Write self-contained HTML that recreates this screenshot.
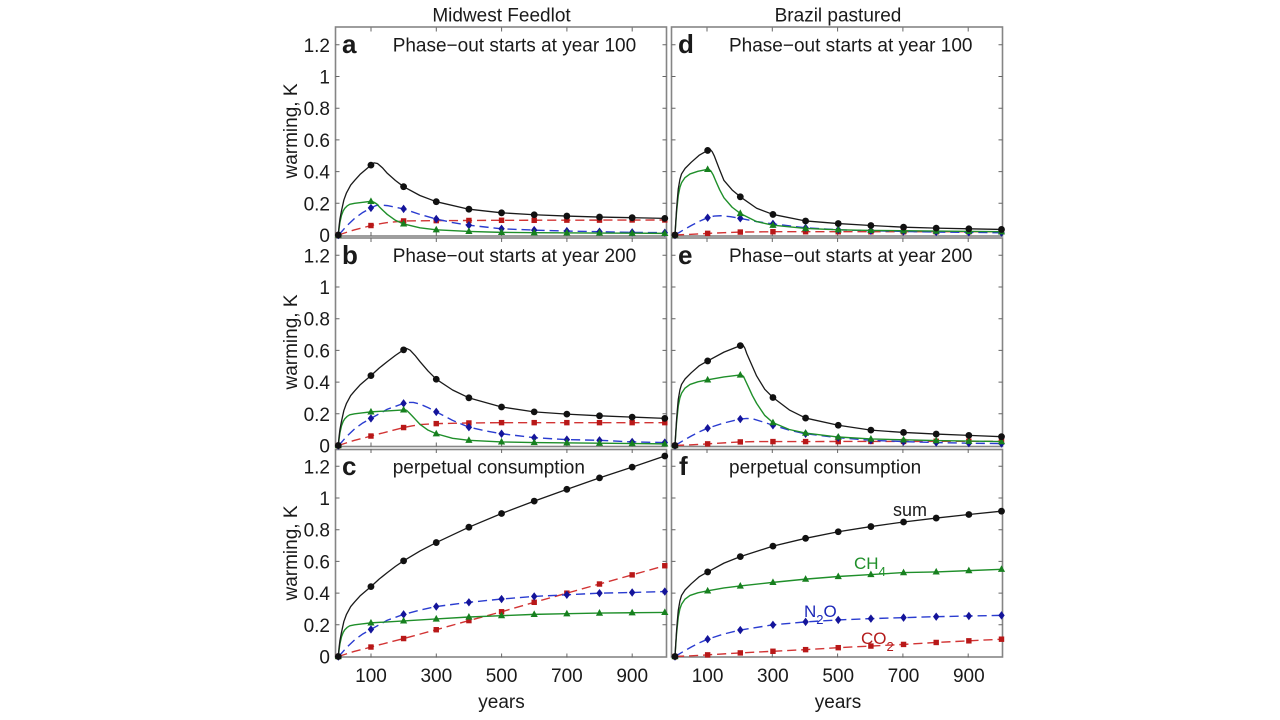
<!DOCTYPE html>
<html>
<head>
<meta charset="utf-8">
<style>
html,body{margin:0;padding:0;background:#fff;}
svg{display:block;}
text{font-family:"Liberation Sans",Arial,sans-serif;fill:#1a1a1a;}
</style>
</head>
<body>
<svg width="1280" height="720" viewBox="0 0 1280 720" xmlns="http://www.w3.org/2000/svg" xmlns:xlink="http://www.w3.org/1999/xlink">
<rect x="0" y="0" width="1280" height="720" fill="#fff"/>
<defs>
<circle id="mc" r="10.4"/>
<path id="mt" d="M0 12.3L11 -8L-11 -8Z"/>
<path id="md" d="M0 12.9L9.8 0L0 -12.9L-9.8 0Z"/>
<rect id="ms" x="-8.3" y="-8.3" width="16.6" height="16.6"/>
<path id="tk" fill="none" stroke="#666" stroke-width="1" d="M0 -31.7h4M0 -63.4h4M0 -95.1h4M0 -126.8h4M0 -158.5h4M0 -190.2h4M331 -31.7h-4M331 -63.4h-4M331 -95.1h-4M331 -126.8h-4M331 -158.5h-4M331 -190.2h-4M35.5 1v-4M100.8 1v-4M166.1 1v-4M231.4 1v-4M296.7 1v-4M35.5 -207.5v4M100.8 -207.5v4M166.1 -207.5v4M231.4 -207.5v4M296.7 -207.5v4"/>
</defs>

<!-- column titles -->
<text x="501.5" y="21.5" font-size="19" text-anchor="middle">Midwest Feedlot</text>
<text x="838" y="21.5" font-size="19" text-anchor="middle">Brazil pastured</text>

<!-- frames -->
<g fill="none" stroke="#858585" stroke-width="1.6">
<rect x="335.5" y="27" width="331" height="209"/>
<rect x="335.5" y="238" width="331" height="208.5"/>
<rect x="335.5" y="449.5" width="331" height="207.5"/>
<rect x="671.5" y="27" width="331" height="209"/>
<rect x="671.5" y="238" width="331" height="208.5"/>
<rect x="671.5" y="449.5" width="331" height="207.5"/>
</g>
<!-- ticks -->
<use href="#tk" xlink:href="#tk" x="335.5" y="235"/>
<use href="#tk" xlink:href="#tk" x="335.5" y="445.5"/>
<use href="#tk" xlink:href="#tk" x="335.5" y="656.5"/>
<use href="#tk" xlink:href="#tk" x="671.5" y="235"/>
<use href="#tk" xlink:href="#tk" x="671.5" y="445.5"/>
<use href="#tk" xlink:href="#tk" x="671.5" y="656.5"/>

<!-- y tick labels -->
<g font-size="19" text-anchor="end">
<text x="330" y="242">0</text>
<text x="330" y="210.3">0.2</text>
<text x="330" y="178.6">0.4</text>
<text x="330" y="146.9">0.6</text>
<text x="330" y="115.2">0.8</text>
<text x="330" y="83.5">1</text>
<text x="330" y="51.8">1.2</text>

<text x="330" y="452.5">0</text>
<text x="330" y="420.8">0.2</text>
<text x="330" y="389.1">0.4</text>
<text x="330" y="357.4">0.6</text>
<text x="330" y="325.7">0.8</text>
<text x="330" y="294">1</text>
<text x="330" y="262.3">1.2</text>

<text x="330" y="663.5">0</text>
<text x="330" y="631.8">0.2</text>
<text x="330" y="600.1">0.4</text>
<text x="330" y="568.4">0.6</text>
<text x="330" y="536.7">0.8</text>
<text x="330" y="505">1</text>
<text x="330" y="473.3">1.2</text>
</g>

<!-- y axis labels -->
<g font-size="19" text-anchor="middle">
<text transform="translate(297,131) rotate(-90)">warming, K</text>
<text transform="translate(297,342) rotate(-90)">warming, K</text>
<text transform="translate(297,553) rotate(-90)">warming, K</text>
</g>

<!-- x tick labels -->
<g font-size="19" text-anchor="middle">
<text x="371" y="682">100</text>
<text x="436.3" y="682">300</text>
<text x="501.6" y="682">500</text>
<text x="566.9" y="682">700</text>
<text x="632.2" y="682">900</text>
<text x="707.6" y="682">100</text>
<text x="772.9" y="682">300</text>
<text x="838.2" y="682">500</text>
<text x="903.5" y="682">700</text>
<text x="968.8" y="682">900</text>
<text x="501.5" y="708">years</text>
<text x="838" y="708">years</text>
</g>

<!-- panel letters -->
<g font-size="26" font-weight="bold">
<text x="342" y="53">a</text>
<text x="342" y="264">b</text>
<text x="342" y="475">c</text>
<text x="678" y="53">d</text>
<text x="678" y="264">e</text>
<text x="679" y="475">f</text>
</g>

<!-- panel headers -->
<g font-size="19">
<text x="392.7" y="51.7">Phase−out starts at year 100</text>
<text x="392.7" y="262">Phase−out starts at year 200</text>
<text x="392.7" y="473.5">perpetual consumption</text>
<text x="729" y="51.7">Phase−out starts at year 100</text>
<text x="729" y="262">Phase−out starts at year 200</text>
<text x="729" y="473.5">perpetual consumption</text>
</g>

<!-- ===== Panel a ===== -->
<g transform="translate(338.3 235) scale(0.3265 -0.3265)" fill="none" stroke-linejoin="round">
<path stroke="#d23434" stroke-width="4.3" stroke-dasharray="28 15" d="M0 0L25 8L50 16L75 22L100 29L125 34L150 38L200 43L300 44L500 45L1000 46"/>
<g fill="#b81818"><use href="#ms" xlink:href="#ms" x="0" y="0"/><use href="#ms" xlink:href="#ms" x="100" y="29"/><use href="#ms" xlink:href="#ms" x="200" y="43"/><use href="#ms" xlink:href="#ms" x="300" y="44"/><use href="#ms" xlink:href="#ms" x="400" y="44.5"/><use href="#ms" xlink:href="#ms" x="500" y="45"/><use href="#ms" xlink:href="#ms" x="600" y="45"/><use href="#ms" xlink:href="#ms" x="700" y="45.5"/><use href="#ms" xlink:href="#ms" x="800" y="45.5"/><use href="#ms" xlink:href="#ms" x="900" y="46"/><use href="#ms" xlink:href="#ms" x="1000" y="46"/></g>
<path stroke="#2a3cd0" stroke-width="4.3" stroke-dasharray="28 15" d="M0 0L10 10L25 27L50 51L75 69L100 83L115 90L130 92L150 90L200 80L250 63L300 49L350 38L400 30L500 19L600 15L700 12L800 10L900 8L1000 7"/>
<g fill="#14149a"><use href="#md" xlink:href="#md" x="0" y="0"/><use href="#md" xlink:href="#md" x="100" y="83"/><use href="#md" xlink:href="#md" x="200" y="80"/><use href="#md" xlink:href="#md" x="300" y="49"/><use href="#md" xlink:href="#md" x="400" y="30"/><use href="#md" xlink:href="#md" x="500" y="19"/><use href="#md" xlink:href="#md" x="600" y="15"/><use href="#md" xlink:href="#md" x="700" y="12"/><use href="#md" xlink:href="#md" x="800" y="10"/><use href="#md" xlink:href="#md" x="900" y="8"/><use href="#md" xlink:href="#md" x="1000" y="7"/></g>
<path stroke="#1f8f2a" stroke-width="4.3" d="M0 0L2 17L5 39L10 61L15 74L20 82L27 89L35 94L50 97L75 100L100 103L105 102L110 100L118 95L125 87L137 75L150 63L175 45L200 34L250 22L300 16L400 11L500 8L600 7L800 6L1000 5"/>
<g fill="#17801f"><use href="#mt" xlink:href="#mt" x="0" y="0"/><use href="#mt" xlink:href="#mt" x="100" y="103"/><use href="#mt" xlink:href="#mt" x="200" y="34"/><use href="#mt" xlink:href="#mt" x="300" y="16"/><use href="#mt" xlink:href="#mt" x="400" y="11"/><use href="#mt" xlink:href="#mt" x="500" y="8"/><use href="#mt" xlink:href="#mt" x="600" y="7"/><use href="#mt" xlink:href="#mt" x="700" y="6.5"/><use href="#mt" xlink:href="#mt" x="800" y="6"/><use href="#mt" xlink:href="#mt" x="900" y="5.5"/><use href="#mt" xlink:href="#mt" x="1000" y="5"/></g>
<path stroke="#1a1a1a" stroke-width="4" d="M0 0L2 24L5 49L10 75L17 107L25 129L38 153L50 167L68 187L100 214L105 219L110 221L120 219L135 206L150 189L175 167L200 148L250 121L300 102L400 79L500 68L600 62L700 58L800 55L900 53L1000 51"/>
<g fill="#111"><use href="#mc" xlink:href="#mc" x="0" y="0"/><use href="#mc" xlink:href="#mc" x="100" y="214"/><use href="#mc" xlink:href="#mc" x="200" y="148"/><use href="#mc" xlink:href="#mc" x="300" y="102"/><use href="#mc" xlink:href="#mc" x="400" y="79"/><use href="#mc" xlink:href="#mc" x="500" y="68"/><use href="#mc" xlink:href="#mc" x="600" y="62"/><use href="#mc" xlink:href="#mc" x="700" y="58"/><use href="#mc" xlink:href="#mc" x="800" y="55"/><use href="#mc" xlink:href="#mc" x="900" y="53"/><use href="#mc" xlink:href="#mc" x="1000" y="51"/></g>
</g>

<!-- ===== Panel b ===== -->
<g transform="translate(338.3 445.5) scale(0.3265 -0.3265)" fill="none" stroke-linejoin="round">
<path stroke="#d23434" stroke-width="4.3" stroke-dasharray="28 15" d="M0 0L25 8L50 16L75 22L100 29L150 42L200 55L225 60L250 64L300 67L400 69L500 70L1000 70"/>
<g fill="#b81818"><use href="#ms" xlink:href="#ms" x="0" y="0"/><use href="#ms" xlink:href="#ms" x="100" y="29"/><use href="#ms" xlink:href="#ms" x="200" y="55"/><use href="#ms" xlink:href="#ms" x="300" y="67"/><use href="#ms" xlink:href="#ms" x="400" y="69"/><use href="#ms" xlink:href="#ms" x="500" y="70"/><use href="#ms" xlink:href="#ms" x="600" y="70"/><use href="#ms" xlink:href="#ms" x="700" y="70"/><use href="#ms" xlink:href="#ms" x="800" y="70"/><use href="#ms" xlink:href="#ms" x="900" y="70"/><use href="#ms" xlink:href="#ms" x="1000" y="70"/></g>
<path stroke="#2a3cd0" stroke-width="4.3" stroke-dasharray="28 15" d="M0 0L10 10L25 27L50 51L75 69L100 83L150 111L200 129L215 132L230 132L250 127L275 116L300 103L350 77L400 56L450 45L500 36L600 24L700 18L800 16L900 11L1000 9"/>
<g fill="#14149a"><use href="#md" xlink:href="#md" x="0" y="0"/><use href="#md" xlink:href="#md" x="100" y="83"/><use href="#md" xlink:href="#md" x="200" y="129"/><use href="#md" xlink:href="#md" x="300" y="103"/><use href="#md" xlink:href="#md" x="400" y="56"/><use href="#md" xlink:href="#md" x="500" y="36"/><use href="#md" xlink:href="#md" x="600" y="24"/><use href="#md" xlink:href="#md" x="700" y="18"/><use href="#md" xlink:href="#md" x="800" y="16"/><use href="#md" xlink:href="#md" x="900" y="11"/><use href="#md" xlink:href="#md" x="1000" y="9"/></g>
<path stroke="#1f8f2a" stroke-width="4.3" d="M0 0L2 17L5 39L10 61L15 74L20 82L27 89L35 94L50 97L75 100L100 103L150 106L200 109L205 109L210 107L218 99L225 92L237 79L250 65L275 47L300 36L350 22L400 16L500 11L600 9L800 7L1000 5"/>
<g fill="#17801f"><use href="#mt" xlink:href="#mt" x="0" y="0"/><use href="#mt" xlink:href="#mt" x="100" y="103"/><use href="#mt" xlink:href="#mt" x="200" y="109"/><use href="#mt" xlink:href="#mt" x="300" y="36"/><use href="#mt" xlink:href="#mt" x="400" y="16"/><use href="#mt" xlink:href="#mt" x="500" y="11"/><use href="#mt" xlink:href="#mt" x="600" y="9"/><use href="#mt" xlink:href="#mt" x="700" y="8"/><use href="#mt" xlink:href="#mt" x="800" y="7"/><use href="#mt" xlink:href="#mt" x="900" y="6"/><use href="#mt" xlink:href="#mt" x="1000" y="5"/></g>
<path stroke="#1a1a1a" stroke-width="4" d="M0 0L2 24L5 49L10 75L17 107L25 129L38 153L50 167L68 187L100 214L125 237L150 257L175 276L200 293L205 296L210 297L220 292L235 276L250 257L275 228L300 203L350 170L400 146L500 118L600 103L700 96L800 91L900 87L1000 83"/>
<g fill="#111"><use href="#mc" xlink:href="#mc" x="0" y="0"/><use href="#mc" xlink:href="#mc" x="100" y="214"/><use href="#mc" xlink:href="#mc" x="200" y="293"/><use href="#mc" xlink:href="#mc" x="300" y="203"/><use href="#mc" xlink:href="#mc" x="400" y="146"/><use href="#mc" xlink:href="#mc" x="500" y="118"/><use href="#mc" xlink:href="#mc" x="600" y="103"/><use href="#mc" xlink:href="#mc" x="700" y="96"/><use href="#mc" xlink:href="#mc" x="800" y="91"/><use href="#mc" xlink:href="#mc" x="900" y="87"/><use href="#mc" xlink:href="#mc" x="1000" y="83"/></g>
</g>

<!-- ===== Panel c ===== -->
<g transform="translate(338.3 656.5) scale(0.3265 -0.3265)" fill="none" stroke-linejoin="round">
<path stroke="#d23434" stroke-width="4.3" stroke-dasharray="28 15" d="M0 0L25 8L50 16L75 22L100 29L200 55L300 82L400 110L500 137L600 166L700 194L800 222L900 250L1000 278"/>
<g fill="#b81818"><use href="#ms" xlink:href="#ms" x="0" y="0"/><use href="#ms" xlink:href="#ms" x="100" y="29"/><use href="#ms" xlink:href="#ms" x="200" y="55"/><use href="#ms" xlink:href="#ms" x="300" y="82"/><use href="#ms" xlink:href="#ms" x="400" y="110"/><use href="#ms" xlink:href="#ms" x="500" y="137"/><use href="#ms" xlink:href="#ms" x="600" y="166"/><use href="#ms" xlink:href="#ms" x="700" y="194"/><use href="#ms" xlink:href="#ms" x="800" y="222"/><use href="#ms" xlink:href="#ms" x="900" y="250"/><use href="#ms" xlink:href="#ms" x="1000" y="278"/></g>
<path stroke="#2a3cd0" stroke-width="4.3" stroke-dasharray="28 15" d="M0 0L10 10L25 27L50 51L75 69L100 83L150 111L200 129L250 142L300 153L400 166L500 176L600 184L700 189L800 194L900 196L1000 199"/>
<g fill="#14149a"><use href="#md" xlink:href="#md" x="0" y="0"/><use href="#md" xlink:href="#md" x="100" y="83"/><use href="#md" xlink:href="#md" x="200" y="129"/><use href="#md" xlink:href="#md" x="300" y="153"/><use href="#md" xlink:href="#md" x="400" y="166"/><use href="#md" xlink:href="#md" x="500" y="176"/><use href="#md" xlink:href="#md" x="600" y="184"/><use href="#md" xlink:href="#md" x="700" y="189"/><use href="#md" xlink:href="#md" x="800" y="194"/><use href="#md" xlink:href="#md" x="900" y="196"/><use href="#md" xlink:href="#md" x="1000" y="199"/></g>
<path stroke="#1f8f2a" stroke-width="4.3" d="M0 0L2 17L5 39L10 61L15 74L20 82L27 89L35 94L50 97L75 100L100 103L150 106L200 109L300 115L400 121L500 125L600 129L700 131L800 133L900 134L1000 135"/>
<g fill="#17801f"><use href="#mt" xlink:href="#mt" x="0" y="0"/><use href="#mt" xlink:href="#mt" x="100" y="103"/><use href="#mt" xlink:href="#mt" x="200" y="109"/><use href="#mt" xlink:href="#mt" x="300" y="115"/><use href="#mt" xlink:href="#mt" x="400" y="121"/><use href="#mt" xlink:href="#mt" x="500" y="125"/><use href="#mt" xlink:href="#mt" x="600" y="129"/><use href="#mt" xlink:href="#mt" x="700" y="131"/><use href="#mt" xlink:href="#mt" x="800" y="133"/><use href="#mt" xlink:href="#mt" x="900" y="134"/><use href="#mt" xlink:href="#mt" x="1000" y="135"/></g>
<path stroke="#1a1a1a" stroke-width="4" d="M0 0L2 24L5 49L10 75L17 107L25 129L38 153L50 167L68 187L100 214L125 237L150 257L175 276L200 293L250 323L300 349L400 396L500 438L600 476L700 512L800 547L900 580L1000 614"/>
<g fill="#111"><use href="#mc" xlink:href="#mc" x="0" y="0"/><use href="#mc" xlink:href="#mc" x="100" y="214"/><use href="#mc" xlink:href="#mc" x="200" y="293"/><use href="#mc" xlink:href="#mc" x="300" y="349"/><use href="#mc" xlink:href="#mc" x="400" y="396"/><use href="#mc" xlink:href="#mc" x="500" y="438"/><use href="#mc" xlink:href="#mc" x="600" y="476"/><use href="#mc" xlink:href="#mc" x="700" y="512"/><use href="#mc" xlink:href="#mc" x="800" y="547"/><use href="#mc" xlink:href="#mc" x="900" y="580"/><use href="#mc" xlink:href="#mc" x="1000" y="614"/></g>
</g>

<!-- ===== Panel d ===== -->
<g transform="translate(675 235) scale(0.3265 -0.3265)" fill="none" stroke-linejoin="round">
<path stroke="#d23434" stroke-width="4.3" stroke-dasharray="28 15" d="M0 0L50 2L100 5L150 7L200 9L300 10L1000 10"/>
<g fill="#b81818"><use href="#ms" xlink:href="#ms" x="0" y="0"/><use href="#ms" xlink:href="#ms" x="100" y="5"/><use href="#ms" xlink:href="#ms" x="200" y="9"/><use href="#ms" xlink:href="#ms" x="300" y="10"/><use href="#ms" xlink:href="#ms" x="400" y="10"/><use href="#ms" xlink:href="#ms" x="500" y="10"/><use href="#ms" xlink:href="#ms" x="600" y="10"/><use href="#ms" xlink:href="#ms" x="700" y="10"/><use href="#ms" xlink:href="#ms" x="800" y="10"/><use href="#ms" xlink:href="#ms" x="900" y="10"/><use href="#ms" xlink:href="#ms" x="1000" y="10"/></g>
<path stroke="#2a3cd0" stroke-width="4.3" stroke-dasharray="28 15" d="M0 0L25 15L50 29L75 42L100 53L120 58L140 59L170 56L200 51L250 41L300 34L400 22L500 16L600 13L700 11L800 9L900 8L1000 7"/>
<g fill="#14149a"><use href="#md" xlink:href="#md" x="0" y="0"/><use href="#md" xlink:href="#md" x="100" y="53"/><use href="#md" xlink:href="#md" x="200" y="51"/><use href="#md" xlink:href="#md" x="300" y="34"/><use href="#md" xlink:href="#md" x="400" y="22"/><use href="#md" xlink:href="#md" x="500" y="16"/><use href="#md" xlink:href="#md" x="600" y="13"/><use href="#md" xlink:href="#md" x="700" y="11"/><use href="#md" xlink:href="#md" x="800" y="9"/><use href="#md" xlink:href="#md" x="900" y="8"/><use href="#md" xlink:href="#md" x="1000" y="7"/></g>
<path stroke="#1f8f2a" stroke-width="4.3" d="M0 0L2 32L5 73L7 92L10 121L15 146L20 160L30 175L46 187L70 195L100 201L105 200L110 196L117 184L125 165L137 138L150 114L175 85L200 66L250 41L300 30L400 20L500 16L600 14L800 12L1000 10"/>
<g fill="#17801f"><use href="#mt" xlink:href="#mt" x="0" y="0"/><use href="#mt" xlink:href="#mt" x="100" y="201"/><use href="#mt" xlink:href="#mt" x="200" y="66"/><use href="#mt" xlink:href="#mt" x="300" y="30"/><use href="#mt" xlink:href="#mt" x="400" y="20"/><use href="#mt" xlink:href="#mt" x="500" y="16"/><use href="#mt" xlink:href="#mt" x="600" y="14"/><use href="#mt" xlink:href="#mt" x="700" y="13"/><use href="#mt" xlink:href="#mt" x="800" y="12"/><use href="#mt" xlink:href="#mt" x="900" y="11"/><use href="#mt" xlink:href="#mt" x="1000" y="10"/></g>
<path stroke="#1a1a1a" stroke-width="4" d="M0 0L2 34L5 82L7 107L10 141L15 170L20 187L31 204L50 223L75 245L100 259L104 262L108 262L114 255L120 243L135 204L150 167L175 138L200 117L250 82L300 63L400 43L500 35L600 29L700 24L800 21L900 19L1000 17"/>
<g fill="#111"><use href="#mc" xlink:href="#mc" x="0" y="0"/><use href="#mc" xlink:href="#mc" x="100" y="259"/><use href="#mc" xlink:href="#mc" x="200" y="117"/><use href="#mc" xlink:href="#mc" x="300" y="63"/><use href="#mc" xlink:href="#mc" x="400" y="43"/><use href="#mc" xlink:href="#mc" x="500" y="35"/><use href="#mc" xlink:href="#mc" x="600" y="29"/><use href="#mc" xlink:href="#mc" x="700" y="24"/><use href="#mc" xlink:href="#mc" x="800" y="21"/><use href="#mc" xlink:href="#mc" x="900" y="19"/><use href="#mc" xlink:href="#mc" x="1000" y="17"/></g>
</g>

<!-- ===== Panel e ===== -->
<g transform="translate(675 445.5) scale(0.3265 -0.3265)" fill="none" stroke-linejoin="round">
<path stroke="#d23434" stroke-width="4.3" stroke-dasharray="28 15" d="M0 0L50 2L100 5L200 11L250 12L300 12L1000 13"/>
<g fill="#b81818"><use href="#ms" xlink:href="#ms" x="0" y="0"/><use href="#ms" xlink:href="#ms" x="100" y="5"/><use href="#ms" xlink:href="#ms" x="200" y="11"/><use href="#ms" xlink:href="#ms" x="300" y="12"/><use href="#ms" xlink:href="#ms" x="400" y="12"/><use href="#ms" xlink:href="#ms" x="500" y="12"/><use href="#ms" xlink:href="#ms" x="600" y="12.5"/><use href="#ms" xlink:href="#ms" x="700" y="12.5"/><use href="#ms" xlink:href="#ms" x="800" y="13"/><use href="#ms" xlink:href="#ms" x="900" y="13"/><use href="#ms" xlink:href="#ms" x="1000" y="13"/></g>
<path stroke="#2a3cd0" stroke-width="4.3" stroke-dasharray="28 15" d="M0 0L25 15L50 29L75 42L100 53L150 69L200 81L220 83L240 81L270 72L300 62L350 47L400 36L500 24L600 16L700 12L800 9L900 7L1000 6"/>
<g fill="#14149a"><use href="#md" xlink:href="#md" x="0" y="0"/><use href="#md" xlink:href="#md" x="100" y="53"/><use href="#md" xlink:href="#md" x="200" y="81"/><use href="#md" xlink:href="#md" x="300" y="62"/><use href="#md" xlink:href="#md" x="400" y="36"/><use href="#md" xlink:href="#md" x="500" y="24"/><use href="#md" xlink:href="#md" x="600" y="16"/><use href="#md" xlink:href="#md" x="700" y="12"/><use href="#md" xlink:href="#md" x="800" y="9"/><use href="#md" xlink:href="#md" x="900" y="7"/><use href="#md" xlink:href="#md" x="1000" y="6"/></g>
<path stroke="#1f8f2a" stroke-width="4.3" d="M0 0L2 32L5 73L7 92L10 121L15 146L20 160L30 175L46 187L70 195L100 201L150 210L200 216L205 215L210 211L217 196L225 179L237 153L250 129L275 92L300 70L350 49L400 38L500 26L600 20L800 15L1000 12"/>
<g fill="#17801f"><use href="#mt" xlink:href="#mt" x="0" y="0"/><use href="#mt" xlink:href="#mt" x="100" y="201"/><use href="#mt" xlink:href="#mt" x="200" y="216"/><use href="#mt" xlink:href="#mt" x="300" y="70"/><use href="#mt" xlink:href="#mt" x="400" y="38"/><use href="#mt" xlink:href="#mt" x="500" y="26"/><use href="#mt" xlink:href="#mt" x="600" y="20"/><use href="#mt" xlink:href="#mt" x="700" y="17"/><use href="#mt" xlink:href="#mt" x="800" y="15"/><use href="#mt" xlink:href="#mt" x="900" y="13"/><use href="#mt" xlink:href="#mt" x="1000" y="12"/></g>
<path stroke="#1a1a1a" stroke-width="4" d="M0 0L2 34L5 82L7 107L10 141L15 170L20 187L31 204L50 223L75 245L100 259L150 286L200 306L204 308L208 308L214 298L220 281L235 247L250 213L275 172L300 147L350 109L400 84L500 62L600 47L700 40L800 35L900 31L1000 27"/>
<g fill="#111"><use href="#mc" xlink:href="#mc" x="0" y="0"/><use href="#mc" xlink:href="#mc" x="100" y="259"/><use href="#mc" xlink:href="#mc" x="200" y="306"/><use href="#mc" xlink:href="#mc" x="300" y="147"/><use href="#mc" xlink:href="#mc" x="400" y="84"/><use href="#mc" xlink:href="#mc" x="500" y="62"/><use href="#mc" xlink:href="#mc" x="600" y="47"/><use href="#mc" xlink:href="#mc" x="700" y="40"/><use href="#mc" xlink:href="#mc" x="800" y="35"/><use href="#mc" xlink:href="#mc" x="900" y="31"/><use href="#mc" xlink:href="#mc" x="1000" y="27"/></g>
</g>

<!-- ===== Panel f ===== -->
<g transform="translate(675 656.5) scale(0.3265 -0.3265)" fill="none" stroke-linejoin="round">
<path stroke="#d23434" stroke-width="4.3" stroke-dasharray="28 15" d="M0 0L50 2L100 5L200 11L300 16L400 21L500 27L600 32L700 37L800 43L900 48L1000 53"/>
<g fill="#b81818"><use href="#ms" xlink:href="#ms" x="0" y="0"/><use href="#ms" xlink:href="#ms" x="100" y="5"/><use href="#ms" xlink:href="#ms" x="200" y="11"/><use href="#ms" xlink:href="#ms" x="300" y="16"/><use href="#ms" xlink:href="#ms" x="400" y="21"/><use href="#ms" xlink:href="#ms" x="500" y="27"/><use href="#ms" xlink:href="#ms" x="600" y="32"/><use href="#ms" xlink:href="#ms" x="700" y="37"/><use href="#ms" xlink:href="#ms" x="800" y="43"/><use href="#ms" xlink:href="#ms" x="900" y="48"/><use href="#ms" xlink:href="#ms" x="1000" y="53"/></g>
<path stroke="#2a3cd0" stroke-width="4.3" stroke-dasharray="28 15" d="M0 0L25 15L50 29L75 42L100 53L150 69L200 81L300 97L400 106L500 112L600 116L700 119L800 122L900 124L1000 126"/>
<g fill="#14149a"><use href="#md" xlink:href="#md" x="0" y="0"/><use href="#md" xlink:href="#md" x="100" y="53"/><use href="#md" xlink:href="#md" x="200" y="81"/><use href="#md" xlink:href="#md" x="300" y="97"/><use href="#md" xlink:href="#md" x="400" y="106"/><use href="#md" xlink:href="#md" x="500" y="112"/><use href="#md" xlink:href="#md" x="600" y="116"/><use href="#md" xlink:href="#md" x="700" y="119"/><use href="#md" xlink:href="#md" x="800" y="122"/><use href="#md" xlink:href="#md" x="900" y="124"/><use href="#md" xlink:href="#md" x="1000" y="126"/></g>
<path stroke="#1f8f2a" stroke-width="4.3" d="M0 0L2 32L5 73L7 92L10 121L15 146L20 160L30 175L46 187L70 195L100 201L150 210L200 216L300 227L400 237L500 245L600 251L700 257L800 259L900 263L1000 267"/>
<g fill="#17801f"><use href="#mt" xlink:href="#mt" x="0" y="0"/><use href="#mt" xlink:href="#mt" x="100" y="201"/><use href="#mt" xlink:href="#mt" x="200" y="216"/><use href="#mt" xlink:href="#mt" x="300" y="227"/><use href="#mt" xlink:href="#mt" x="400" y="237"/><use href="#mt" xlink:href="#mt" x="500" y="245"/><use href="#mt" xlink:href="#mt" x="600" y="251"/><use href="#mt" xlink:href="#mt" x="700" y="257"/><use href="#mt" xlink:href="#mt" x="800" y="259"/><use href="#mt" xlink:href="#mt" x="900" y="263"/><use href="#mt" xlink:href="#mt" x="1000" y="267"/></g>
<path stroke="#1a1a1a" stroke-width="4" d="M0 0L2 34L5 82L7 107L10 141L15 170L20 187L31 204L50 223L75 245L100 259L150 286L200 306L300 338L400 362L500 382L600 398L700 412L800 424L900 435L1000 445"/>
<g fill="#111"><use href="#mc" xlink:href="#mc" x="0" y="0"/><use href="#mc" xlink:href="#mc" x="100" y="259"/><use href="#mc" xlink:href="#mc" x="200" y="306"/><use href="#mc" xlink:href="#mc" x="300" y="338"/><use href="#mc" xlink:href="#mc" x="400" y="362"/><use href="#mc" xlink:href="#mc" x="500" y="382"/><use href="#mc" xlink:href="#mc" x="600" y="398"/><use href="#mc" xlink:href="#mc" x="700" y="412"/><use href="#mc" xlink:href="#mc" x="800" y="424"/><use href="#mc" xlink:href="#mc" x="900" y="435"/><use href="#mc" xlink:href="#mc" x="1000" y="445"/></g>
</g>

<!-- annotations panel f -->
<text x="893" y="516" font-size="18">sum</text>
<text x="854" y="569" font-size="17" style="fill:#1f8f2a">CH<tspan dy="7" font-size="13">4</tspan></text>
<text x="804" y="617" font-size="17" style="fill:#1c28b8">N<tspan dy="7" font-size="13">2</tspan><tspan dy="-7">O</tspan></text>
<text x="861" y="644" font-size="17" style="fill:#b41c1c">CO<tspan dy="7" font-size="13">2</tspan></text>
</svg>
</body>
</html>
